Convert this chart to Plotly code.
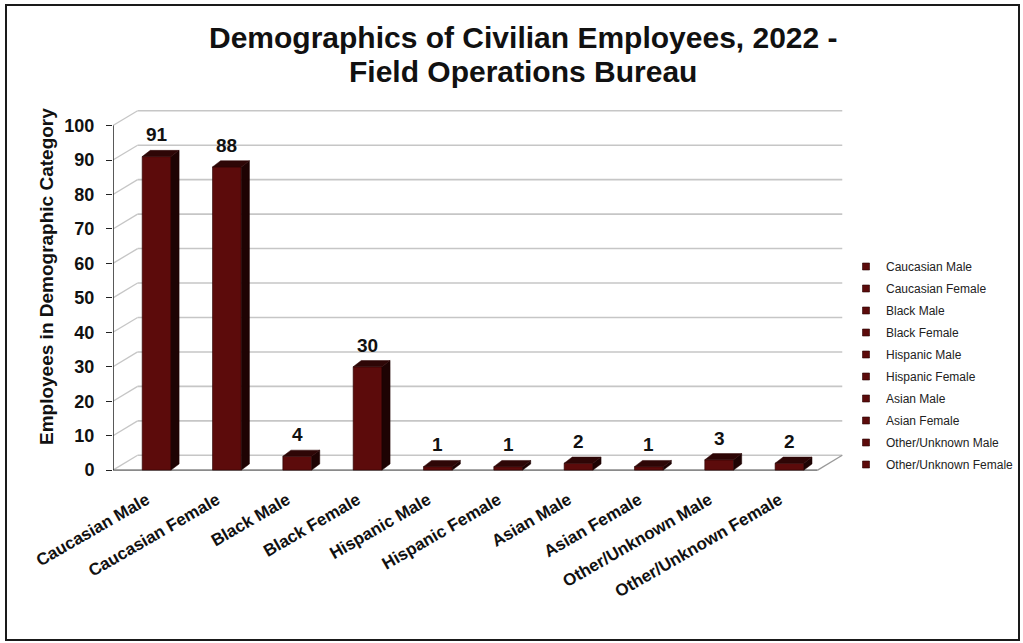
import plotly.graph_objects as go

# ---- data -----------------------------------------------------------------
categories = [
    "Caucasian Male", "Caucasian Female", "Black Male", "Black Female",
    "Hispanic Male", "Hispanic Female", "Asian Male", "Asian Female",
    "Other/Unknown Male", "Other/Unknown Female",
]
employees = [91, 88, 4, 30, 1, 1, 2, 1, 3, 2]
y_ticks = list(range(0, 101, 10))
title_lines = ["Demographics of Civilian Employees, 2022 -", "Field Operations Bureau"]

# ---- styling --------------------------------------------------------------
FONT = "Arial, 'Liberation Sans', sans-serif"
FRONT = "#5c0b0b"
SIDE = "#1e0303"
TOP = "#2e0606"
GRID = "#c6c6c6"

# pseudo-3D geometry, in axis units
X_LEFT, X_RIGHT = -0.62, 9.40      # front edge of the floor
WALL_DX, WALL_DY = 0.35, 4.3       # depth offset of the back wall
BAR_W = 0.41                       # width of a bar's front face
BAR_DX, BAR_DY = 0.115, 1.8        # depth offset of a bar

W, H = 1023, 643
ML, MR, MT, MB = 113, 173, 98, 166
XR = [-0.62, 9.86]
YR = [-2, 108]


def px_x(px):
    return (px - ML) / (W - ML - MR)


def px_y(py):
    return (H - MB - py) / (H - MT - MB)


xs = list(range(len(categories)))
fig = go.Figure()

# front faces of the bars
fig.add_trace(go.Bar(
    x=xs, y=employees, width=BAR_W,
    marker=dict(color=FRONT, line=dict(color="#2a0404", width=0.6)),
    showlegend=False, hoverinfo="x+y",
))

# side and top faces of the bars
for i, v in enumerate(employees):
    r = i + BAR_W / 2
    l = i - BAR_W / 2
    fig.add_trace(go.Scatter(
        x=[r, r, r + BAR_DX, r + BAR_DX, r],
        y=[0, v, v + BAR_DY, BAR_DY, 0],
        fill="toself", fillcolor=SIDE, mode="lines",
        line=dict(color=SIDE, width=0.5), showlegend=False, hoverinfo="skip",
    ))
    fig.add_trace(go.Scatter(
        x=[l, r, r + BAR_DX, l + BAR_DX, l],
        y=[v, v, v + BAR_DY, v + BAR_DY, v],
        fill="toself", fillcolor=TOP, mode="lines",
        line=dict(color=TOP, width=0.5), showlegend=False, hoverinfo="skip",
    ))

# legend entries, one per category
for name in categories:
    fig.add_trace(go.Scatter(
        x=[None], y=[None], mode="markers", name=name, legendgroup=name,
        marker=dict(symbol="square", size=7, color=FRONT,
                    line=dict(color="#2a0404", width=0.6)),
    ))

shapes = []
# back-wall gridlines and side-wall diagonals
for v in y_ticks:
    shapes.append(dict(type="line", xref="x", yref="y", layer="below",
                       x0=X_LEFT + WALL_DX, x1=X_RIGHT + WALL_DX,
                       y0=v + WALL_DY, y1=v + WALL_DY,
                       line=dict(color=GRID, width=1.6)))
    shapes.append(dict(type="line", xref="x", yref="y", layer="below",
                       x0=X_LEFT, x1=X_LEFT + WALL_DX,
                       y0=v, y1=v + WALL_DY,
                       line=dict(color=GRID, width=1.3)))
# floor edges
shapes.append(dict(type="line", xref="x", yref="y", layer="below",
                   x0=X_LEFT, x1=X_RIGHT, y0=0, y1=0,
                   line=dict(color="#8a8a8a", width=1.6)))
shapes.append(dict(type="line", xref="x", yref="y", layer="below",
                   x0=X_RIGHT, x1=X_RIGHT + WALL_DX, y0=0, y1=WALL_DY,
                   line=dict(color="#9a9a9a", width=1.3)))
# value axis line
shapes.append(dict(type="line", xref="x", yref="y", layer="above",
                   x0=X_LEFT, x1=X_LEFT, y0=0, y1=y_ticks[-1],
                   line=dict(color="#222222", width=1.5)))
# outer frame
shapes.append(dict(type="rect", xref="paper", yref="paper",
                   x0=px_x(6), x1=px_x(1019), y0=px_y(640), y1=px_y(5),
                   line=dict(color="#1a1a1a", width=2)))

annotations = []
for i, v in enumerate(employees):
    annotations.append(dict(
        x=i, y=v + BAR_DY, xref="x", yref="y", text=str(v),
        showarrow=False, yanchor="bottom", yshift=3,
        font=dict(family=FONT, size=19, color="#111111", weight="bold"),
    ))
# chart title, two centred lines
for line, cy in zip(title_lines, [37, 71]):
    annotations.append(dict(
        x=px_x(523), y=px_y(cy), xref="paper", yref="paper", text=line,
        showarrow=False, xanchor="center", yanchor="middle",
        font=dict(family=FONT, size=30, color="#111111", weight="bold"),
    ))
# value axis title
annotations.append(dict(
    x=px_x(46), y=px_y(277), xref="paper", yref="paper",
    text="Employees in Demographic Category", textangle=-90,
    showarrow=False, xanchor="center", yanchor="middle",
    font=dict(family=FONT, size=19, color="#111111", weight="bold"),
))

fig.update_layout(
    width=W, height=H,
    margin=dict(l=ML, r=MR, t=MT, b=MB, autoexpand=False),
    paper_bgcolor="white", plot_bgcolor="white",
    barmode="overlay",
    xaxis=dict(
        range=XR, tickvals=xs, ticktext=categories, tickangle=-30,
        showgrid=False, zeroline=False, showline=False, ticks="",
        ticklabelstandoff=9, ticklabelshift=-10,
        tickfont=dict(family=FONT, size=17, color="#111111", weight="bold"),
        fixedrange=True,
    ),
    yaxis=dict(
        range=YR, tickvals=y_ticks, showgrid=False, zeroline=False,
        showline=False, ticks="outside", ticklen=6, tickcolor="#222222",
        tickwidth=1.3, ticklabelstandoff=8,
        tickfont=dict(family=FONT, size=18, color="#111111", weight="bold"),
        fixedrange=True,
    ),
    legend=dict(
        xref="container", yref="container",
        x=846 / W, y=1 - 252 / H, xanchor="left", yanchor="top",
        font=dict(family=FONT, size=12, color="#222222"),
        tracegroupgap=3, itemwidth=30, bgcolor="rgba(0,0,0,0)",
    ),
    shapes=shapes,
    annotations=annotations,
)

fig.write_html("out.html")
